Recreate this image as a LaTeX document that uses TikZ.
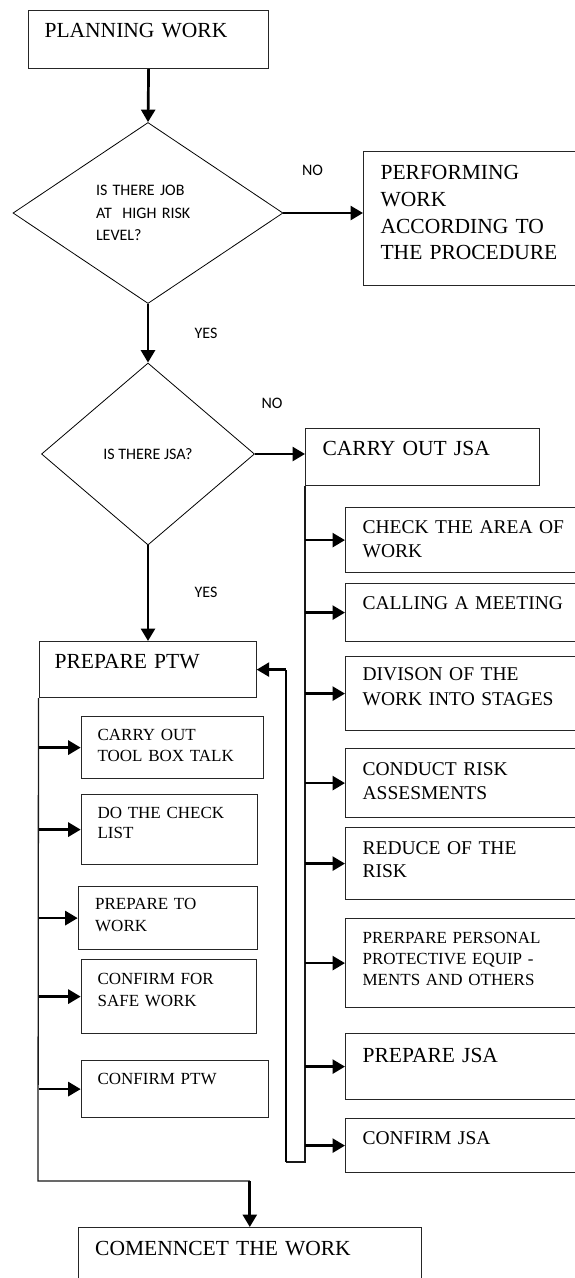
\documentclass[tikz,border=0pt]{standalone}
\usepackage{fontspec}
\setmainfont{Liberation Serif}
\newfontfamily\carl{Carlito}
\usetikzlibrary{shapes.geometric,arrows.meta}
\begin{document}
\begin{tikzpicture}[x=1pt,y=-1pt,
  bx/.style={draw=black!85,line width=1.2pt,anchor=north west,inner ysep=0pt,align=left},
  big/.style={font=\fontsize{21.5}{26.7}\selectfont},
  mid/.style={font=\fontsize{19.5}{24}\selectfont},
  sml/.style={font=\fontsize{17}{21.5}\selectfont},
  lbl/.style={font=\carl\fontsize{16}{22.5}\selectfont,inner sep=0pt},
  dia/.style={diamond,draw=black,line width=0.8pt,inner sep=0pt,font=\carl\fontsize{16}{22.5}\selectfont},
  arr/.style={line width=2.7pt,-{Triangle[length=12.5pt,width=14pt]}},
  thinline/.style={line width=1.3pt,draw=black!90},
  loopline/.style={line width=2.2pt}
]
\useasboundingbox (0,0) rectangle (575,1278);
\clip (0,0) rectangle (575,1278);

% top part
\node[bx,big,inner xsep=16pt,text width=208pt,text height=27.1pt,text depth=30.9pt] (plan) at (28,10) {PLANNING~WORK};
\node[dia,minimum width=270pt,minimum height=181pt,text width=104pt,align=left] (d1) at (148,213) {IS~THERE~JOB\\AT~~HIGH~RISK\\LEVEL?};
\node[bx,big,inner xsep=17pt,text width=203pt,text height=28.1pt,text depth=105.9pt] (perf) at (363,151) {PERFORMING\\WORK\\ACCORDING~TO\\THE~PROCEDURE};
\node[lbl] (no1) at (312.5,170) {NO};
\node[lbl] (yes1) at (206,333) {YES};
\node[dia,minimum width=213pt,minimum height=182pt] (d2) at (148,454) {IS~THERE~JSA?};
\node[lbl] (no2) at (272,403) {NO};
\node[lbl] (yes2) at (206,592) {YES};

% JSA branch
\node[bx,big,inner xsep=17pt,text width=200pt,text height=27.1pt,text depth=29.9pt] (jsa) at (305,428) {CARRY~OUT~JSA};
\node[bx,mid,inner xsep=17pt,text width=221pt,text height=25.4pt,text depth=39.6pt] (area) at (345,507) {CHECK~THE~AREA~OF\\WORK};
\node[bx,mid,inner xsep=17pt,text width=221pt,text height=25.4pt,text depth=32.6pt] (meet) at (345,583) {CALLING~A~MEETING};
\node[bx,mid,inner xsep=17pt,text width=221pt,text height=23.4pt,text depth=50.6pt,font=\fontsize{19.5}{25}\selectfont] (div) at (345,656) {DIVISON~OF~THE\\WORK~INTO~STAGES};
\node[bx,mid,inner xsep=17pt,text width=221pt,text height=26.4pt,text depth=42.6pt] (cond) at (345,748) {CONDUCT~RISK\\ASSESMENTS};
\node[bx,mid,inner xsep=17pt,text width=221pt,text height=26.4pt,text depth=45.6pt,font=\fontsize{19.5}{23}\selectfont] (red) at (345,827) {REDUCE~OF~THE\\RISK};
\node[bx,inner xsep=17pt,text width=221pt,text height=24.6pt,text depth=64.4pt,font=\fontsize{17}{21}\selectfont] (ppe) at (345,918) {PRERPARE~PERSONAL\\PROTECTIVE~EQUIP~-\\MENTS~AND~OTHERS};
\node[bx,big,inner xsep=17pt,text width=221pt,text height=29.1pt,text depth=36.9pt] (pjsa) at (345,1033) {PREPARE~JSA};
\node[bx,mid,inner xsep=17pt,text width=221pt,text height=25.4pt,text depth=28.6pt] (cjsa) at (345,1118) {CONFIRM~JSA};

% PTW branch
\node[bx,big,inner xsep=15.5pt,text width=186pt,text height=27.1pt,text depth=28.9pt] (ptw) at (38.5,641) {PREPARE~PTW};
\node[bx,sml,inner xsep=16.3pt,text width=149.7pt,text height=23.8pt,text depth=38.2pt] (tbt) at (80.7,716) {CARRY~OUT\\TOOL~BOX~TALK};
\node[bx,sml,inner xsep=16.3pt,text width=143.7pt,text height=23.8pt,text depth=46.2pt,font=\fontsize{17}{20}\selectfont] (chk) at (80.7,794) {DO~THE~CHECK\\LIST};
\node[bx,sml,inner xsep=16.9pt,text width=145.5pt,text height=22.8pt,text depth=40.2pt,font=\fontsize{17}{22}\selectfont] (ptwork) at (77.7,886) {PREPARE~TO\\WORK};
\node[bx,sml,inner xsep=16.3pt,text width=142.4pt,text height=24.8pt,text depth=49.2pt,font=\fontsize{17}{22}\selectfont] (safe) at (80.7,959) {CONFIRM~FOR\\SAFE~WORK};
\node[bx,sml,inner xsep=16.3pt,text width=154.7pt,text height=23.8pt,text depth=33.2pt] (cptw) at (80.7,1060) {CONFIRM~PTW};
\node[bx,big,inner xsep=16.9pt,text width=309.2pt,text height=28.1pt,text depth=41.9pt] (comm) at (77.7,1227) {COMENNCET~THE~WORK};

\coordinate (jsabot) at (305,1162);
\coordinate (loopbot) at (286,1162);
\coordinate (ltrunk) at (38,1181);

% connectors
\draw[arr] (plan.south) -- (d1.north);
\draw[arr] (d1.east) -- (d1.east -| perf.west);
\draw[arr] (d1.south) -- (d2.north);
\draw[arr] (d2.east) -- (d2.east -| jsa.west);
\draw[arr] (d2.south) -- (d2.south |- ptw.north);

\draw[thinline] (jsa.south west) -- (jsabot) -- (loopbot);
\draw[loopline] (loopbot) -- (loopbot |- ptw.east);
\draw[arr] (loopbot |- ptw.east) -- (ptw.east);
\foreach \n in {area,meet,div,cond,red,ppe,pjsa,cjsa}
  \draw[arr] (\n.west -| jsa.south west) -- (\n.west);

\draw[thinline] (ptw.south west) -- (ltrunk) -- (ltrunk -| comm.north);
\draw[arr] (ltrunk -| comm.north) -- (comm.north);
\foreach \n in {tbt,chk,ptwork,safe,cptw}
  \draw[arr] (\n.west -| ptw.south west) -- (\n.west);
\end{tikzpicture}
\end{document}
